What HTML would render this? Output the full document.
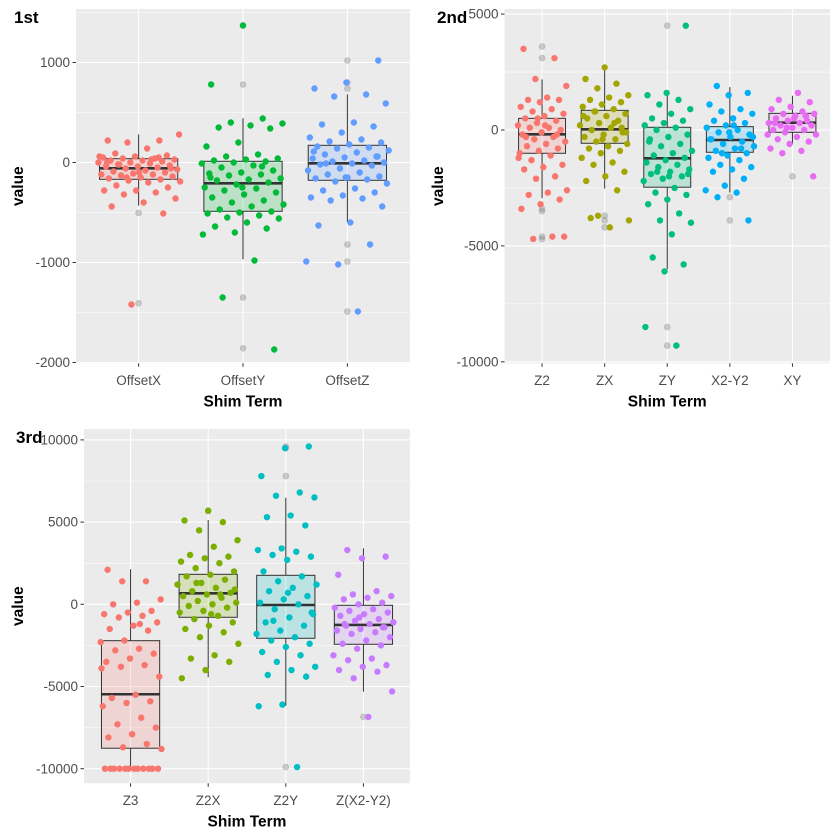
<!DOCTYPE html>
<html><head><meta charset="utf-8">
<style>
html,body{margin:0;padding:0;background:#fff;}
svg{display:block;font-family:"Liberation Sans",Arial,sans-serif;}
</style></head>
<body>
<svg id="chart" width="840" height="840" viewBox="0 0 840 840"></svg>
<script>
// ---------- Panel 1 data ----------
const p1Cats = ["OffsetX","OffsetY","OffsetZ"];
const p1Colors = ["#F8766D","#00BA38","#619CFF"];
const p1Ticks = [-2000,-1000,0,1000];
const p1TickLabels = ["-2000","-1000","0","1000"];
const p1Minor = [-1500,-500,500,1500];
const p1Q1 = [-168,-488,-178];
const p1Med = [-58,-208,-8];
const p1Q3 = [38,12,172];
const p1Lo = [-432,-968,-598];
const p1Hi = [282,442,682];
const p1Out = [[-505,-1408],[1370,780,-1350,-1858],[1020,800,740,-820,-990,-1490]];
const p1Pts = [
 [220,220,200,280,140,90,70,60,50,40,40,30,20,20,10,0,0,-10,-20,-30,-40,-40,-50,-60,-70,-80,-90,-100,-110,-120,-120,-130,-140,-150,-160,-170,-180,-190,-200,-230,-250,-280,-280,-300,-320,-360,-400,-440,-510,-1420,60,30,-20,-60,-100,0,50,-150],
 [1370,780,440,400,390,370,350,340,200,160,80,60,40,30,20,10,0,-10,-30,-50,-80,-100,-110,-120,-130,-160,-170,-180,-200,-220,-250,-260,-280,-300,-320,-350,-380,-400,-420,-440,-470,-490,-500,-510,-530,-550,-560,-600,-640,-660,-700,-720,-980,-1350,-1870,-250,-150,-40],
 [1020,800,740,680,660,590,400,380,360,300,250,230,210,200,180,160,150,140,120,100,80,60,50,40,20,10,0,-10,-20,-30,-60,-80,-100,-120,-140,-150,-160,-170,-190,-210,-260,-280,-300,-330,-350,-360,-380,-440,-600,-630,-820,-1020,-990,-1490,-10,60,-150,110]
];
// ---------- Panel 2 data ----------
const p2Cats = ["Z2","ZX","ZY","X2-Y2","XY"];
const p2Colors = ["#F8766D","#A3A500","#00BF7D","#00B0F6","#E76BF3"];
const p2Ticks = [-10000,-5000,0,5000];
const p2TickLabels = ["-10000","-5000","0","5000"];
const p2Minor = [-7500,-2500,2500];
const p2Q1 = [-1004,-573,-2468,-961,-100];
const p2Med = [-185,30,-1220,-431,316];
const p2Q3 = [503,848,116,144,718];
const p2Lo = [-2942,-2527,-6000,-2700,-616];
const p2Hi = [2183,2756,1637,1850,1478];
const p2Out = [[3600,3100,-3400,-3500,-4600,-4700],[-3700,-3900,-4200],[4500,-8500,-9300],[-2900,-3900],[-2000]];
const p2Pts = [
 [3500,3100,2200,1900,1400,1300,1300,1200,1000,900,800,700,600,500,400,300,200,100,100,0,-100,-200,-300,-400,-500,-600,-700,-800,-900,-1000,-1100,-1300,-1500,-1600,-1700,-2000,-2100,-2600,-2700,-2800,-3000,-3200,-3400,-4600,-4700,-4600,200,-300,-200,500,-1200],
 [2700,2200,2000,1800,1500,1400,1300,1200,1100,1000,900,800,700,600,500,400,300,200,100,0,-100,-200,-300,-400,-500,-600,-700,-800,-900,-1000,-1200,-1400,-1500,-1800,-2000,-2200,-2600,-3700,-3900,-4200,-3800,100,-400,600,300,800,-100],
 [4500,1600,1500,1300,1100,900,700,500,400,300,200,100,0,-200,-300,-500,-600,-700,-900,-1000,-1100,-1200,-1300,-1400,-1500,-1600,-1700,-1800,-1900,-2000,-2100,-2200,-2500,-2700,-2800,-3000,-3200,-3600,-3900,-4000,-4500,-5500,-5800,-6100,-8500,-9300,-1800,-1900,-2000,-400],
 [1900,1600,1500,1100,900,800,700,500,400,300,200,100,0,-100,-200,-300,-400,-500,-600,-700,-800,-900,-1000,-1100,-1200,-1300,-1500,-1600,-1700,-1800,-2100,-2400,-2600,-2700,-2900,-3900,-100,-400,-800,-1000,-300,200],
 [1600,1300,1200,1000,900,800,700,700,600,500,400,400,300,300,200,200,100,0,0,-100,-200,-300,-400,-500,-600,-800,-900,-1000,-2000,500,300,600,100,-200]
];
// ---------- Panel 3 data ----------
const p3Cats = ["Z3","Z2X","Z2Y","Z(X2-Y2)"];
const p3Colors = ["#F8766D","#7CAE00","#00BFC4","#C77CFF"];
const p3Ticks = [-10000,-5000,0,5000,10000];
const p3TickLabels = ["-10000","-5000","0","5000","10000"];
const p3Minor = [-7500,-2500,2500,7500];
const p3Q1 = [-8754,-790,-2067,-2432];
const p3Med = [-5471,669,-43,-1258];
const p3Q3 = [-2213,1824,1763,-61];
const p3Lo = [-9872,-4438,-6164,-5313];
const p3Hi = [2128,5125,6480,3404];
const p3Out = [[],[5660],[9600,9500,7800,-9900],[-6850]];
const p3Pts = [
 [2100,1400,1400,300,100,0,-400,-500,-600,-700,-800,-1100,-1300,-1500,-1600,-2200,-2300,-2700,-2800,-3000,-3300,-3500,-3700,-3800,-4400,-5500,-5700,-5900,-6000,-6200,-6900,-7300,-7500,-7900,-8100,-8500,-8700,-8800,-10000,-10000,-10000,-10000,-10000,-10000,-10000,-10000,-10000,-10000,-10000,-10000,-3900,-1200],
 [5700,5100,5000,4500,3900,3500,3000,2900,2800,2600,2500,2200,2000,1800,1700,1500,1300,1200,1000,800,700,600,500,400,200,100,0,-100,-200,-400,-500,-700,-900,-1100,-1300,-1500,-1700,-2000,-2400,-3100,-3300,-3500,-4000,-4500,600,1300,900,-600],
 [9600,9500,7800,6800,6600,6500,5400,5300,4800,3400,3300,3200,3000,2900,2700,2000,1700,1400,1200,1000,800,500,300,100,0,-300,-600,-800,-1100,-1300,-1600,-1800,-2000,-2200,-2400,-2600,-2900,-3100,-3500,-3800,-4000,-4300,-4400,-6100,-6200,-9900,-1000,-500,700],
 [3300,2900,2800,1800,800,600,500,400,300,100,0,-200,-300,-400,-500,-600,-700,-900,-1000,-1100,-1200,-1300,-1400,-1500,-1600,-1700,-1800,-2000,-2200,-2400,-2500,-2700,-3100,-3300,-3400,-3700,-3800,-4000,-4100,-4500,-5300,-6850,-1200,-1400,-800]
];

const NS = "http://www.w3.org/2000/svg";
const svg = document.getElementById("chart");
function mk(tag, attrs, parent){
  const e = document.createElementNS(NS, tag);
  for (const k in attrs) e.setAttribute(k, attrs[k]);
  (parent||svg).appendChild(e);
  return e;
}

function drawPanel(cfg){
  const g = mk("g", {});
  
  
  const {x0,x1,y0,y1} = cfg;
  const yScale = v => cfg.ya + (v - cfg.va) * (cfg.yb - cfg.ya) / (cfg.vb - cfg.va);
  const n = cfg.cats.length;
  const step = (x1 - x0) / (n + 0.2);
  const xScale = i => x0 + (0.6 + i) * step;
  const bg = mk("rect", {x:x0, y:y0, width:x1-x0, height:y1-y0, fill:"#EBEBEB"}, g);
  
  
  cfg.minor.forEach(v => {
    const y = yScale(v);
    if (y < y0 || y > y1) return;
    const l = mk("line", {x1:x0, x2:x1, y1:y, y2:y, stroke:"#fff", "stroke-width":0.55}, g);
    
    
  });
  cfg.ticks.forEach(v => {
    const y = yScale(v);
    const l = mk("line", {x1:x0, x2:x1, y1:y, y2:y, stroke:"#fff", "stroke-width":1.1}, g);
    
    
  });
  cfg.cats.forEach((c,i) => {
    const x = xScale(i);
    const l = mk("line", {x1:x, x2:x, y1:y0, y2:y1, stroke:"#fff", "stroke-width":1.1}, g);
    
    
  });
  const bw = step * 0.75;
  cfg.cats.forEach((c,i) => {
    const cx = xScale(i);
    const bg2 = mk("g", {}, g);
    
    
    mk("line", {x1:cx, x2:cx, y1:yScale(cfg.hi[i]), y2:yScale(cfg.q3[i]), stroke:"#333", "stroke-width":1}, bg2);
    mk("line", {x1:cx, x2:cx, y1:yScale(cfg.q1[i]), y2:yScale(cfg.lo[i]), stroke:"#333", "stroke-width":1}, bg2);
    const top = yScale(cfg.q3[i]), bot = yScale(cfg.q1[i]);
    mk("rect", {x:cx-bw/2, y:top, width:bw, height:bot-top, fill:cfg.colors[i], "fill-opacity":0.2, stroke:"#333", "stroke-width":1}, bg2);
    const my = yScale(cfg.med[i]);
    mk("line", {x1:cx-bw/2, x2:cx+bw/2, y1:my, y2:my, stroke:"#333", "stroke-width":2.6}, bg2);
    cfg.out[i].forEach(v => {
      const o = mk("circle", {cx:cx, cy:yScale(v), r:3, fill:"#8a8a8a", "fill-opacity":0.4, stroke:"#8a8a8a", "stroke-opacity":0.4, "stroke-width":0.6}, bg2);
      
      
    });
  });
  cfg.cats.forEach((c,i) => {
    const cx = xScale(i);
    cfg.pts[i].forEach((v,k) => {
      const f = ((k * 0.6180339887 + i * 0.37 + 0.13) % 1) - 0.5;
      const p = mk("circle", {cx: cx + f * 0.8 * step, cy: yScale(v), r:3.2, fill:cfg.colors[i]}, g);
      
      
    });
  });
  cfg.ticks.forEach((v,k) => {
    const y = yScale(v);
    mk("line", {x1:x0-3.5, x2:x0, y1:y, y2:y, stroke:"#333", "stroke-width":1}, g);
    const t = mk("text", {x:x0-6, y:y+4.6, "text-anchor":"end", "font-size":13.5, fill:"#4D4D4D"}, g);
    t.textContent = cfg.tickLabels[k];
    
    
  });
  cfg.cats.forEach((c,i) => {
    const x = xScale(i);
    mk("line", {x1:x, x2:x, y1:y1, y2:y1+3.5, stroke:"#333", "stroke-width":1}, g);
    const t = mk("text", {x:x, y:y1+21.5, "text-anchor":"middle", "font-size":13.5, fill:"#4D4D4D"}, g);
    t.textContent = c;
    
    
  });
  const xt = mk("text", {x:(x0+x1)/2, y:y1+43, "text-anchor":"middle", "font-size":15.5, "font-weight":"bold", fill:"#000"}, g);
  xt.textContent = "Shim Term";
  
  
  const ym = (y0+y1)/2;
  const yt = mk("text", {x:cfg.ytx, y:ym, "text-anchor":"middle", "font-size":15.5, "font-weight":"bold", fill:"#000", transform:"rotate(-90 "+cfg.ytx+" "+ym+")"}, g);
  yt.textContent = "value";
  
  
  const tt = mk("text", {x:cfg.tx, y:cfg.ty, "font-size":17, "font-weight":"bold", fill:"#000"}, g);
  tt.textContent = cfg.title;
  
  
}

drawPanel({name:"panel-1st", title:"1st", tx:14, ty:23, ytx:23,
  x0:76, x1:410, y0:9, y1:363.3, va:0, ya:162.5, vb:1000, yb:62.5,
  cats:p1Cats, colors:p1Colors, ticks:p1Ticks, tickLabels:p1TickLabels, minor:p1Minor,
  q1:p1Q1, med:p1Med, q3:p1Q3, lo:p1Lo, hi:p1Hi, out:p1Out, pts:p1Pts});
drawPanel({name:"panel-2nd", title:"2nd", tx:437, ty:23, ytx:443,
  x0:504.5, x1:830, y0:9, y1:363.3, va:0, ya:130, vb:-5000, yb:245.9,
  cats:p2Cats, colors:p2Colors, ticks:p2Ticks, tickLabels:p2TickLabels, minor:p2Minor,
  q1:p2Q1, med:p2Med, q3:p2Q3, lo:p2Lo, hi:p2Hi, out:p2Out, pts:p2Pts});
drawPanel({name:"panel-3rd", title:"3rd", tx:16, ty:443, ytx:23,
  x0:84, x1:410, y0:429, y1:783.3, va:0, ya:604.3, vb:-5000, yb:686.5,
  cats:p3Cats, colors:p3Colors, ticks:p3Ticks, tickLabels:p3TickLabels, minor:p3Minor,
  q1:p3Q1, med:p3Med, q3:p3Q3, lo:p3Lo, hi:p3Hi, out:p3Out, pts:p3Pts});
</script>
</body></html>
